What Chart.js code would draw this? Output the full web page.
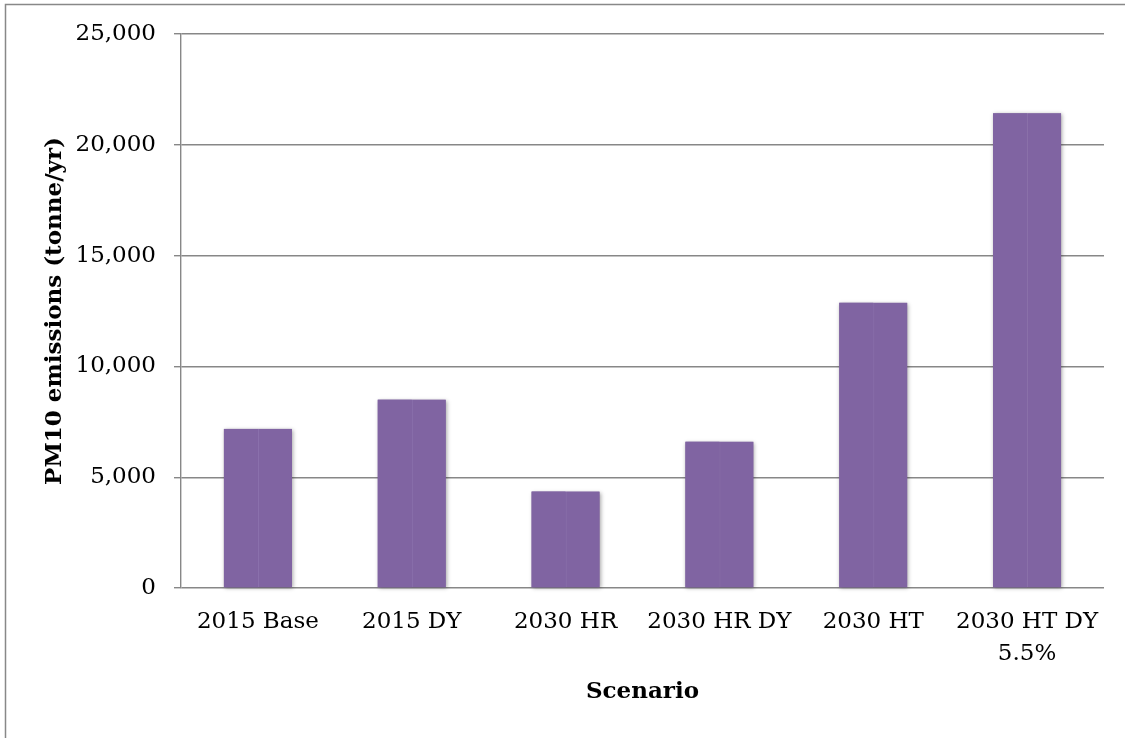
<!DOCTYPE html>
<html>
<head>
  <title>PM10 Emissions by Scenario</title>
  <script src="https://cdn.jsdelivr.net/npm/chart.js"></script>
  <style>
    html, body { margin: 0; padding: 0; background: #fff; }
    #wrap { width: 1125px; height: 738px; }
  </style>
</head>
<body>
  <div id="wrap"><canvas id="pmChart" width="1125" height="738"></canvas></div>
  <script>
    // PM10 emissions per scenario (tonne/yr)
    const scenarios = ['2015 Base', '2015 DY', '2030 HR', '2030 HR DY', '2030 HT', ['2030 HT DY', '5.5%']];
    const emissions = [7180, 8500, 4350, 6600, 12870, 21420];
    const yTicks = [0, 5000, 10000, 15000, 20000, 25000];

    const purple = '#8064a2';
    const labelFont = { family: 'DejaVu Serif', size: 23, lineHeight: 1.4 };
    const titleFont = { family: 'DejaVu Serif', size: 23, weight: 'bold' };

    // soft shadow behind each pair of bar halves, drawn before the bars
    const barShadow = {
      id: 'barShadow',
      beforeDatasetsDraw(chart) {
        const ctx = chart.ctx;
        const left = chart.getDatasetMeta(0).data;
        const right = chart.getDatasetMeta(1).data;
        ctx.save();
        ctx.shadowColor = 'rgba(0,0,0,0.35)';
        ctx.shadowBlur = 4;
        ctx.shadowOffsetX = 1;
        ctx.shadowOffsetY = 1;
        ctx.fillStyle = purple;
        left.forEach((bar, i) => {
          const a = bar.getProps(['x', 'y', 'base', 'width']);
          const b = right[i].getProps(['x', 'width']);
          const x0 = a.x - a.width / 2;
          const x1 = b.x + b.width / 2;
          ctx.fillRect(x0, a.y, x1 - x0, a.base - a.y);
        });
        ctx.restore();
      }
    };

    // frame of the chart object along the top and left edges
    const frame = {
      id: 'frame',
      afterDraw(chart) {
        const ctx = chart.ctx;
        ctx.save();
        ctx.strokeStyle = '#888';
        ctx.lineWidth = 1.5;
        ctx.beginPath();
        ctx.moveTo(5.5, 738);
        ctx.lineTo(5.5, 4.5);
        ctx.lineTo(1125, 4.5);
        ctx.stroke();
        ctx.restore();
      }
    };

    new Chart(document.getElementById('pmChart').getContext('2d'), {
      type: 'bar',
      data: {
        labels: scenarios,
        datasets: [{
          data: emissions,
          backgroundColor: purple,
          borderWidth: 0,
          categoryPercentage: 0.442,
          barPercentage: 1
        }, {
          data: emissions,
          backgroundColor: purple,
          borderColor: '#8e75ae',
          borderWidth: { left: 1, top: 0, right: 0, bottom: 0 },
          borderSkipped: false,
          categoryPercentage: 0.442,
          barPercentage: 1
        }]
      },
      options: {
        responsive: false,
        animation: false,
        devicePixelRatio: 1,
        layout: { padding: { top: 34, right: 21, left: 0, bottom: 0 } },
        plugins: { legend: { display: false }, tooltip: { enabled: false } },
        scales: {
          x: {
            grid: { display: false, drawTicks: false },
            border: { display: false },
            ticks: { color: '#000', font: labelFont, padding: 18, maxRotation: 0, autoSkip: false },
            title: { display: true, text: 'Scenario', color: '#000', font: titleFont, padding: { top: 0, bottom: 32 } },
            afterFit(scale) { scale.height = 150; }
          },
          y: {
            min: 0,
            max: 25000,
            afterBuildTicks(scale) { scale.ticks = yTicks.map(v => ({ value: v })); },
            grid: { color: '#878787', lineWidth: 1.4, tickLength: 7 },
            border: { display: true, color: '#878787', width: 1.4 },
            ticks: {
              color: '#000',
              font: { family: 'DejaVu Serif', size: 23 },
              padding: 18,
              callback: v => v.toLocaleString('en-US')
            },
            title: { display: true, text: 'PM10 emissions (tonne/yr)', color: '#000', font: titleFont, padding: { top: 41, bottom: 0 } },
            afterFit(scale) { scale.width = 181; }
          }
        }
      },
      plugins: [barShadow, frame]
    });
  </script>
</body>
</html>
